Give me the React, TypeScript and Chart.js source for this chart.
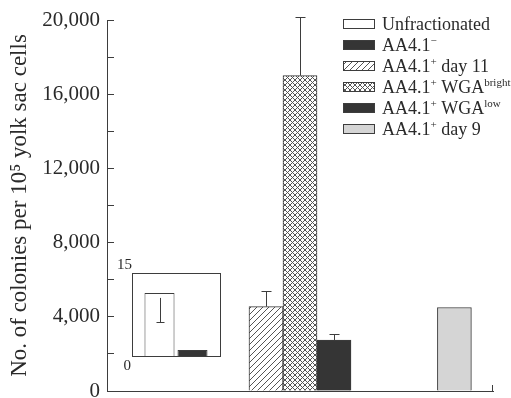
import React, { useEffect, useRef } from 'react';
import { Chart, registerables } from 'chart.js';

Chart.register(...registerables);

// ---------- data ----------
const categories = ['', 'Unfractionated / AA4.1−', 'Day 11 AA4.1+', '', 'Day 9 AA4.1+'];
const seriesNames = [
  'Unfractionated',
  'AA4.1^{−}',
  'AA4.1^{+} day 11',
  'AA4.1^{+} WGA^{bright}',
  'AA4.1^{+} WGA^{low}',
  'AA4.1^{+} day 9',
];
const unfractionated = [null, null, null, null, null];
const aa41Neg = [null, null, null, null, null];
const day11 = [null, null, 4550, null, null];
const day11Err = [null, null, 850, null, null];
const wgaBright = [null, null, 17000, null, null];
const wgaBrightErr = [null, null, 3150, null, null];
const wgaLow = [null, null, 2750, null, null];
const wgaLowErr = [null, null, 320, null, null];
const day9 = [null, null, null, null, 4500];
const day9Err = [null, null, null, null, null];

const yMin = 0;
const yMax = 20000;
const yStep = 2000;
const yLabelStep = 4000;

const insetLabels = ['inset'];
const insetUnfractionated = [11.4];
const insetUnfractionatedErr = [5.3];
const insetAa41Neg = [1.1];
const insetMax = 15;

// ---------- styles ----------
const FONT = '"Liberation Serif", "Times New Roman", serif';
const INK = '#3d3d3d';
const DARK = '#353535';
const LIGHT = '#d5d5d5';

function makePattern(kind: 'hatch' | 'cross'): CanvasPattern | string {
  const s = kind === 'hatch' ? 6 : 5;
  const c = document.createElement('canvas');
  c.width = s;
  c.height = s;
  const g = c.getContext('2d');
  if (!g) return '#fff';
  g.fillStyle = '#fff';
  g.fillRect(0, 0, s, s);
  g.strokeStyle = '#555';
  g.lineWidth = 1;
  const line = (x1: number, y1: number, x2: number, y2: number) => {
    g.beginPath();
    g.moveTo(x1, y1);
    g.lineTo(x2, y2);
    g.stroke();
  };
  line(-1, s + 1, s + 1, -1);
  line(-1, 1, 1, -1);
  line(s - 1, s + 1, s + 1, s - 1);
  if (kind === 'cross') {
    line(-1, -1, s + 1, s + 1);
    line(s - 1, -1, s + 1, 1);
    line(-1, s - 1, 1, s + 1);
  }
  return g.createPattern(c, 'repeat') || '#fff';
}

function parseRich(text: string) {
  const parts: { t: string; sup: boolean }[] = [];
  const re = /\^\{([^}]*)\}/g;
  let last = 0;
  let m: RegExpExecArray | null;
  while ((m = re.exec(text))) {
    if (m.index > last) parts.push({ t: text.slice(last, m.index), sup: false });
    parts.push({ t: m[1], sup: true });
    last = m.index + m[0].length;
  }
  if (last < text.length) parts.push({ t: text.slice(last), sup: false });
  return parts;
}

function drawRich(ctx: CanvasRenderingContext2D, text: string, x: number, y: number, size: number) {
  let cx = x;
  for (const p of parseRich(text)) {
    const fs = p.sup ? Math.round(size * 0.62) : size;
    ctx.font = `${fs}px ${FONT}`;
    ctx.fillText(p.t, cx, p.sup ? y - size * 0.4 : y);
    cx += ctx.measureText(p.t).width;
  }
}

export default function App() {
  const mainRef = useRef<HTMLCanvasElement>(null);
  const insetRef = useRef<HTMLCanvasElement>(null);

  useEffect(() => {
    if (!mainRef.current || !insetRef.current) return;
    const hatch = makePattern('hatch');
    const cross = makePattern('cross');
    const fills: any[] = ['#ffffff', DARK, hatch, cross, DARK, LIGHT];
    const values = [unfractionated, aa41Neg, day11, wgaBright, wgaLow, day9];
    const errors = [null, null, day11Err, wgaBrightErr, wgaLowErr, day9Err];

    const extras = {
      id: 'extras',
      afterDatasetsDraw(chart: any) {
        const ctx = chart.ctx;
        const y = chart.scales.y;
        ctx.save();
        ctx.strokeStyle = INK;
        ctx.lineWidth = 1;
        chart.data.datasets.forEach((ds: any, i: number) => {
          const errs = ds.errors as (number | null)[] | null;
          if (!errs) return;
          const meta = chart.getDatasetMeta(i);
          meta.data.forEach((bar: any, j: number) => {
            const v = ds.data[j];
            const e = errs[j];
            if (v == null || e == null) return;
            const x = Math.round(bar.x) + 0.5;
            const top = Math.round(y.getPixelForValue(v + e)) + 0.5;
            ctx.beginPath();
            ctx.moveTo(x, bar.y);
            ctx.lineTo(x, top);
            ctx.moveTo(x - 5, top);
            ctx.lineTo(x + 5, top);
            ctx.stroke();
          });
        });
        ctx.restore();
      },
      afterDraw(chart: any) {
        const ctx = chart.ctx;
        const area = chart.chartArea;
        ctx.save();
        ctx.strokeStyle = INK;
        ctx.lineWidth = 1;
        // end tick of x axis
        ctx.beginPath();
        ctx.moveTo(Math.round(area.right) - 0.5, area.bottom);
        ctx.lineTo(Math.round(area.right) - 0.5, area.bottom - 6);
        ctx.stroke();
        // legend
        const boxX = 343;
        const textX = 382;
        const rowY0 = 24;
        const rowGap = 21;
        seriesNames.forEach((name, i) => {
          const cy = rowY0 + i * rowGap;
          ctx.fillStyle = fills[i];
          ctx.fillRect(boxX, cy - 4.5, 32, 9);
          ctx.strokeStyle = INK;
          ctx.strokeRect(boxX + 0.5, cy - 4.5, 31, 9);
          ctx.fillStyle = '#2a2a2a';
          ctx.textBaseline = 'alphabetic';
          ctx.textAlign = 'left';
          drawRich(ctx, name, textX, cy + 6, 18);
        });
        ctx.restore();
      },
    };

    const main = new Chart(mainRef.current, {
      type: 'bar',
      data: {
        labels: categories,
        datasets: values.map((d, i) => ({
          label: seriesNames[i],
          data: d,
          backgroundColor: fills[i],
          borderColor: INK,
          borderWidth: 1,
          barThickness: 34,
          errors: errors[i],
        })) as any,
      },
      options: {
        animation: false,
        responsive: false,
        skipNull: true,
        layout: { padding: { left: 0, right: 18, top: 20, bottom: 7 } },
        plugins: { legend: { display: false }, tooltip: { enabled: false } },
        scales: {
          x: {
            type: 'category',
            grid: { display: false, drawTicks: false },
            border: { display: true, color: INK, width: 1 },
            ticks: { display: false },
          },
          y: {
            min: yMin,
            max: yMax,
            grid: { display: true, drawOnChartArea: false, drawTicks: true, tickLength: -7, color: INK },
            border: { display: true, color: INK, width: 1 },
            ticks: {
              stepSize: yStep,
              autoSkip: false,
              padding: 14,
              color: '#2a2a2a',
              font: { family: FONT, size: 21 },
              callback: (v: any) => (Number(v) % yLabelStep === 0 ? Number(v).toLocaleString('en-US') : ''),
            },
            title: {
              display: true,
              text: 'No. of colonies per 10⁵ yolk sac cells',
              color: '#2a2a2a',
              font: { family: FONT, size: 23 },
              padding: { top: 6, bottom: 0 },
            },
            afterFit: (scale: any) => {
              scale.width = 107;
              scale.paddingTop = 0;
              scale.paddingBottom = 0;
            },
          },
        },
      } as any,
      plugins: [extras],
    });

    const insetExtras = {
      id: 'insetExtras',
      afterDraw(chart: any) {
        const ctx = chart.ctx;
        const a = chart.chartArea;
        const y = chart.scales.y;
        ctx.save();
        ctx.strokeStyle = INK;
        ctx.lineWidth = 1;
        ctx.strokeRect(Math.round(a.left) + 0.5, Math.round(a.top) + 0.5, Math.round(a.right - a.left), Math.round(a.bottom - a.top));
        // error bar (lower) of unfractionated
        const bar: any = chart.getDatasetMeta(0).data[0];
        const v = insetUnfractionated[0];
        const e = insetUnfractionatedErr[0];
        const x = Math.round(bar.x) + 0.5;
        const low = Math.round(y.getPixelForValue(v - e)) + 0.5;
        ctx.beginPath();
        ctx.moveTo(x, bar.y + 5);
        ctx.lineTo(x, low);
        ctx.moveTo(x - 4, low);
        ctx.lineTo(x + 4, low);
        ctx.stroke();
        // axis labels
        ctx.fillStyle = '#2a2a2a';
        ctx.font = `15px ${FONT}`;
        ctx.textAlign = 'right';
        ctx.textBaseline = 'middle';
        ctx.fillText(String(insetMax), a.left, y.getPixelForValue(insetMax) - 8);
        ctx.fillText('0', a.left - 1, y.getPixelForValue(0) + 10);
        ctx.restore();
      },
    };

    const inset = new Chart(insetRef.current, {
      type: 'bar',
      data: {
        labels: insetLabels,
        datasets: [
          { label: seriesNames[0], data: insetUnfractionated, backgroundColor: '#ffffff', borderColor: INK, borderWidth: 1 },
          { label: seriesNames[1], data: insetAa41Neg, backgroundColor: DARK, borderColor: INK, borderWidth: 1 },
        ],
      },
      options: {
        animation: false,
        responsive: false,
        layout: { padding: { left: 32, right: 20, top: 23, bottom: 24 } },
        datasets: { bar: { categoryPercentage: 0.75, barPercentage: 0.91 } },
        plugins: { legend: { display: false }, tooltip: { enabled: false } },
        scales: {
          x: { display: false },
          y: { display: false, min: 0, max: insetMax },
        },
      } as any,
      plugins: [insetExtras],
    });

    return () => {
      main.destroy();
      inset.destroy();
    };
  }, []);

  return (
    <div style={{ position: 'absolute', left: 0, top: 0, width: 511, height: 398, background: '#fff' }}>
      <canvas ref={mainRef} width={511} height={398} style={{ position: 'absolute', left: 0, top: 0 }} />
      <canvas ref={insetRef} width={140} height={130} style={{ position: 'absolute', left: 100, top: 250 }} />
    </div>
  );
}
